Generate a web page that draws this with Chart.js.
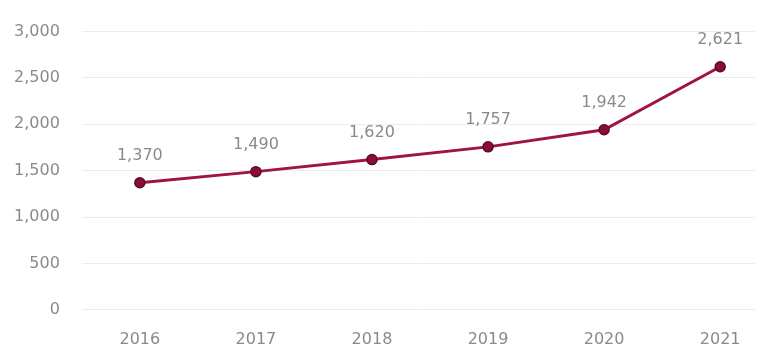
<!DOCTYPE html>
<html>
<head>
<meta charset="utf-8">
<script src="https://cdn.jsdelivr.net/npm/chart.js@4/dist/chart.umd.min.js"></script>
<style>
  html, body { margin: 0; padding: 0; background: #fff; }
  #wrap { width: 763px; height: 349px; position: relative; }
</style>
</head>
<body>
<div id="wrap"><canvas id="lineCanvas"></canvas></div>
<script>
// years & values
var years = [2016, 2017, 2018, 2019, 2020, 2021];
var values = [1370, 1490, 1620, 1757, 1942, 2621];
var yTicks = [0, 500, 1000, 1500, 2000, 2500, 3000];

var lineColor = '#a01346';
var textColor = '#8a8a8a';
var fontFamily = '"DejaVu Sans", sans-serif';

// labels au-dessus des points
var valueLabels = {
    id: 'valueLabels',
    afterDatasetsDraw: function (chart) {
        var ctx = chart.ctx;
        var meta = chart.getDatasetMeta(0);
        ctx.save();
        ctx.font = '16px ' + fontFamily;
        ctx.fillStyle = textColor;
        ctx.textAlign = 'center';
        ctx.textBaseline = 'middle';
        meta.data.forEach(function (pt, i) {
            ctx.fillText(values[i].toLocaleString('en-US'), pt.x, pt.y - 27);
        });
        ctx.restore();
    }
};

var points = years.map(function (y, i) { return { x: y, y: values[i] }; });

var ctx = document.getElementById('lineCanvas').getContext('2d');
var chart = new Chart(ctx, {
    type: 'line',
    data: {
        datasets: [{
            data: points,
            borderColor: lineColor,
            borderWidth: 3,
            backgroundColor: '#8a0c3b',
            pointBorderColor: '#5e0a28',
            pointBorderWidth: 1.5,
            pointRadius: 5,
            tension: 0
        }]
    },
    options: {
        responsive: true,
        maintainAspectRatio: false,
        animation: false,
        layout: { padding: { top: 20, right: 8, left: -8, bottom: -20 } },
        plugins: { legend: { display: false }, tooltip: { enabled: false } },
        scales: {
            x: {
                type: 'linear',
                min: 2015.5,
                max: 2021.3,
                border: { display: false },
                grid: { display: false, drawTicks: false },
                afterBuildTicks: function (scale) {
                    scale.ticks = years.map(function (y) { return { value: y }; });
                },
                ticks: {
                    color: textColor,
                    font: { family: fontFamily, size: 16 },
                    padding: 20,
                    maxRotation: 0,
                    callback: function (v) { return String(v); }
                }
            },
            y: {
                min: 0,
                max: 3000,
                border: { display: false },
                grid: { color: '#ececec', lineWidth: 1, drawTicks: false },
                afterBuildTicks: function (scale) {
                    scale.ticks = yTicks.map(function (v) { return { value: v }; });
                },
                ticks: {
                    color: textColor,
                    font: { family: fontFamily, size: 16 },
                    padding: 22,
                    callback: function (v) { return v.toLocaleString('en-US'); }
                }
            }
        }
    },
    plugins: [valueLabels]
});
</script>
</body>
</html>
